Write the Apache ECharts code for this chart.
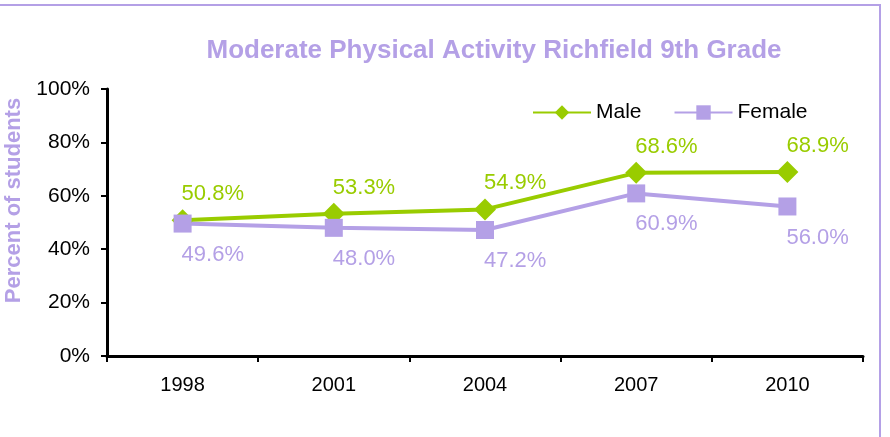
<!DOCTYPE html>
<html><head><meta charset="utf-8">
<script src="https://cdn.jsdelivr.net/npm/echarts@6/dist/echarts.min.js"></script>
<style>html,body{margin:0;padding:0;background:#fff}#c{width:890px;height:437px}</style>
</head><body><div id="c"></div>
<script>
const categories = ['1998','2001','2004','2007','2010'];
const maleValues = [50.8, 53.3, 54.9, 68.6, 68.9];
const femaleValues = [49.6, 48.0, 47.2, 60.9, 56.0];
const yTicks = [0, 20, 40, 60, 80, 100];

const green = '#99CC00';
const purple = '#B4A0E6';
const font = 'Liberation Sans, Arial, sans-serif';

const chart = echarts.init(document.getElementById('c'));
chart.setOption({
  animation: false,
  backgroundColor: '#fff',
  graphic: [{
    type: 'rect', shape: {x: -5, y: 5, width: 885, height: 450},
    style: {fill: 'none', stroke: '#B4A0E6', lineWidth: 2}, silent: true
  }],
  title: {
    text: 'Moderate Physical Activity Richfield 9th Grade',
    left: 489, top: 33, textAlign: 'center',
    textStyle: {color: purple, fontSize: 26, fontWeight: 'bold', fontFamily: font}
  },
  legend: {
    left: 527, top: 97, itemWidth: 58, itemHeight: 18, itemGap: 32,
    textStyle: {fontSize: 21, color: '#000', fontFamily: font},
    data: ['Male', 'Female']
  },
  grid: {left: 107, right: 27, top: 89, bottom: 81, containLabel: false, outerBoundsMode: 'none'},
  xAxis: {
    type: 'category', data: categories, boundaryGap: true,
    axisLine: {lineStyle: {color: '#000', width: 3}},
    axisTick: {show: true, length: 6, lineStyle: {color: '#000', width: 2}},
    axisLabel: {fontSize: 20, color: '#000', margin: 19, fontFamily: font}
  },
  yAxis: {
    type: 'value', min: 0, max: 100, interval: 20,
    name: 'Percent of students', nameLocation: 'middle', nameGap: 80,
    nameTextStyle: {color: purple, fontSize: 22, fontWeight: 'bold', fontFamily: font,
      padding: [0, 0, 0, 44]},
    axisLine: {show: true, lineStyle: {color: '#000', width: 3}},
    axisTick: {show: true, inside: false, length: 6, lineStyle: {color: '#000', width: 2}},
    splitLine: {show: false},
    axisLabel: {fontSize: 21, color: '#000', margin: 17, fontFamily: font,
      formatter: v => yTicks.includes(v) ? v + '%' : ''}
  },
  series: [{
    name: 'Male', type: 'line', data: maleValues,
    symbol: 'diamond', symbolSize: 22,
    lineStyle: {color: green, width: 4}, itemStyle: {color: green},
    label: {show: true, position: 'top', align: 'left', offset: [-1, 1], distance: 5,
      color: green, fontSize: 22, fontFamily: font, formatter: p => p.value.toFixed(1) + '%'}
  }, {
    name: 'Female', type: 'line', data: femaleValues,
    symbol: 'rect', symbolSize: 18,
    lineStyle: {color: purple, width: 4}, itemStyle: {color: purple},
    label: {show: true, position: 'bottom', align: 'left', offset: [-1, 6], distance: 5,
      color: purple, fontSize: 22, fontFamily: font, formatter: p => p.value.toFixed(1) + '%'}
  }]
});
</script></body></html>
